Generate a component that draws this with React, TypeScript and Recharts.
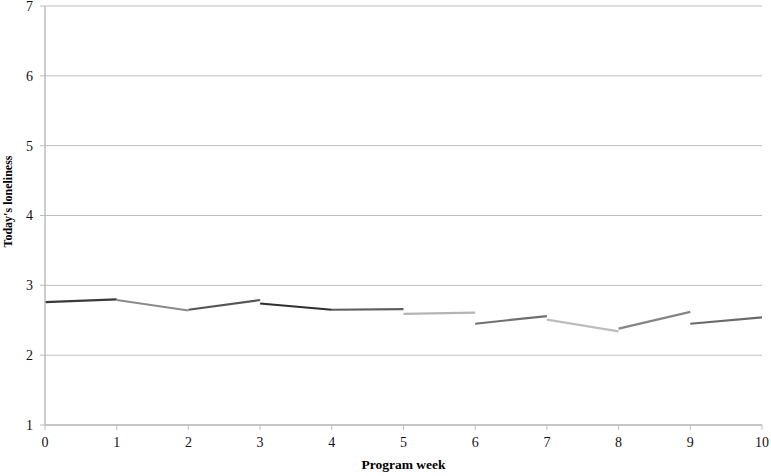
import React from "react";
import { LineChart, Line, XAxis, YAxis, CartesianGrid, Label } from "recharts";

// one short segment per program week interval (week i -> week i+1)
const weeks = [0, 1, 2, 3, 4, 5, 6, 7, 8, 9, 10];
const segStart = [2.76, 2.79, 2.65, 2.74, 2.65, 2.59, 2.45, 2.51, 2.38, 2.45];
const segEnd = [2.8, 2.64, 2.79, 2.65, 2.66, 2.61, 2.56, 2.34, 2.62, 2.54];
const segColors = [
  "#3a3a3a",
  "#8a8a8a",
  "#555555",
  "#2e2e2e",
  "#5e5e5e",
  "#b4b4b4",
  "#707070",
  "#bdbdbd",
  "#858585",
  "#6a6a6a",
];
const yTicks = [1, 2, 3, 4, 5, 6, 7];

const FONT = "'Liberation Serif', 'Times New Roman', serif";

const chartData = weeks.map((week) => {
  const row: Record<string, number | null> = { week };
  segStart.forEach((_, i) => {
    if (week === i) row[`s${i}`] = segStart[i];
    else if (week === i + 1) row[`s${i}`] = segEnd[i];
    else row[`s${i}`] = null;
  });
  return row;
});

const tickStyle = {
  fill: "#111",
  fontSize: 14,
  fontFamily: FONT,
  style: { fontFamily: FONT },
};

const YTitle = (props: any) => {
  const vb = props.viewBox || { y: 0, height: 0 };
  const cx = 8;
  const cy = vb.y + vb.height / 2 - 14;
  return (
    <text
      x={cx}
      y={cy}
      transform={`rotate(-90, ${cx}, ${cy})`}
      textAnchor="middle"
      dominantBaseline="central"
      fontFamily={FONT}
      fontWeight="bold"
      fontSize={12}
      fill="#000"
    >
      Today's loneliness
    </text>
  );
};

const App: React.FC = () => {
  return (
    <div style={{ position: "absolute", left: 0, top: 0, background: "#fff" }}>
      <LineChart
        width={771}
        height={476}
        data={chartData}
        margin={{ top: 6, right: 9, left: 0, bottom: 0 }}
      >
        <CartesianGrid
          horizontal={true}
          vertical={false}
          stroke="#bdbdbd"
          strokeWidth={1}
        />
        <XAxis
          dataKey="week"
          type="number"
          domain={[0, 10]}
          ticks={weeks}
          interval={0}
          height={51}
          axisLine={{ stroke: "#bdbdbd", strokeWidth: 1.5 }}
          tickLine={{ stroke: "#bdbdbd" }}
          tickSize={5}
          tickMargin={7}
          tick={tickStyle}
        >
          <Label
            value="Program week"
            position="insideBottom"
            offset={7}
            style={{
              fontFamily: FONT,
              fontWeight: "bold",
              fontSize: 13.5,
              fill: "#000",
            }}
          />
        </XAxis>
        <YAxis
          type="number"
          domain={[1, 7]}
          ticks={yTicks}
          interval={0}
          width={45}
          axisLine={{ stroke: "#bdbdbd", strokeWidth: 1.5 }}
          tickLine={{ stroke: "#bdbdbd" }}
          tickSize={5}
          tickMargin={7}
          tick={tickStyle}
        >
          <Label content={<YTitle />} />
        </YAxis>
        {segStart.map((_, i) => (
          <Line
            key={`s${i}`}
            dataKey={`s${i}`}
            stroke={segColors[i]}
            strokeWidth={2.2}
            dot={false}
            activeDot={false}
            connectNulls={false}
            isAnimationActive={false}
          />
        ))}
      </LineChart>
    </div>
  );
};

export default App;
